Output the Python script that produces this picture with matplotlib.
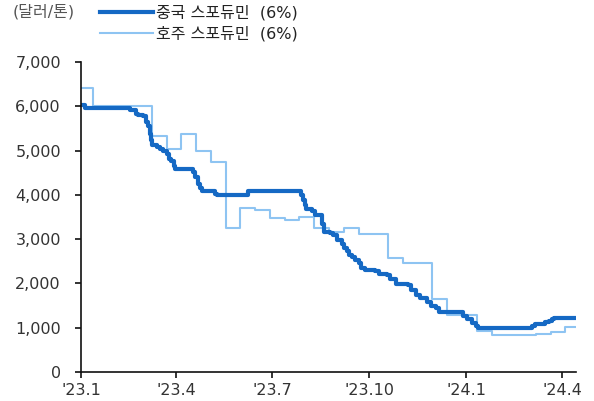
import pandas as pd
import matplotlib.pyplot as plt
from matplotlib.ticker import FuncFormatter

plt.rcParams['font.family'] = ['DejaVu Sans', 'Noto Sans CJK KR']

# 중국 스포듀민 (6%) 가격, 달러/톤
china_dates = [
    "2023-01-01", "2023-01-05", "2023-02-16", "2023-02-22", "2023-02-24",
    "2023-03-01", "2023-03-04", "2023-03-05", "2023-03-07", "2023-03-08",
    "2023-03-09", "2023-03-14", "2023-03-17", "2023-03-20", "2023-03-23",
    "2023-03-25", "2023-03-27", "2023-03-30", "2023-03-31", "2023-04-17",
    "2023-04-19", "2023-04-22", "2023-04-24", "2023-04-26", "2023-05-08",
    "2023-05-10", "2023-06-08", "2023-07-28", "2023-07-30", "2023-08-01",
    "2023-08-02", "2023-08-08", "2023-08-11", "2023-08-17", "2023-08-19",
    "2023-08-25", "2023-08-28", "2023-09-01", "2023-09-05", "2023-09-07",
    "2023-09-10", "2023-09-12", "2023-09-15", "2023-09-18", "2023-09-21",
    "2023-09-23", "2023-09-27", "2023-10-07", "2023-10-10", "2023-10-18",
    "2023-10-21", "2023-10-26", "2023-11-07", "2023-11-10", "2023-11-14",
    "2023-11-18", "2023-11-25", "2023-11-29", "2023-12-03", "2023-12-06",
    "2023-12-29", "2024-01-02", "2024-01-06", "2024-01-10", "2024-01-12",
    "2024-03-03", "2024-03-06", "2024-03-16", "2024-03-19", "2024-03-22",
    "2024-03-24", "2024-04-14",
]
china_price = [
    6035, 5970, 5910, 5830, 5795,
    5780, 5645, 5550, 5380, 5250,
    5120, 5080, 5025, 5000, 4930,
    4815, 4755, 4650, 4575, 4515,
    4400, 4250, 4150, 4080, 4010,
    3990, 4085, 3990, 3875, 3775,
    3690, 3630, 3550, 3350, 3160,
    3140, 3085, 2970, 2900, 2800,
    2725, 2635, 2595, 2520, 2460,
    2350, 2295, 2280, 2220, 2200,
    2105, 1995, 1970, 1845, 1745,
    1670, 1580, 1490, 1445, 1355,
    1265, 1200, 1110, 1050, 995,
    1040, 1075, 1130, 1160, 1190,
    1220, 1220,
]

# 호주 스포듀민 (6%) 가격, 2주 간격
aus_dates = [
    "2023-01-01", "2023-01-12", "2023-01-26", "2023-02-09", "2023-02-23",
    "2023-03-09", "2023-03-23", "2023-04-06", "2023-04-20", "2023-05-04",
    "2023-05-18", "2023-06-01", "2023-06-15", "2023-06-29", "2023-07-13",
    "2023-07-27", "2023-08-10", "2023-08-24", "2023-09-07", "2023-09-21",
    "2023-10-05", "2023-10-19", "2023-11-02", "2023-11-16", "2023-11-30",
    "2023-12-14", "2023-12-28", "2024-01-11", "2024-01-25", "2024-02-08",
    "2024-02-22", "2024-03-07", "2024-03-21", "2024-04-04", "2024-04-14",
]
aus_price = [
    6410, 6000, 6000, 6000, 6000,
    5330, 5040, 5365, 5000, 4740,
    3260, 3700, 3665, 3480, 3430,
    3490, 3250, 3160, 3250, 3120,
    3120, 2575, 2460, 2460, 1650,
    1280, 1280, 918, 828, 828,
    828, 865, 903, 1016, 1016,
]

x_ticks = ["2023-01-01", "2023-04-01", "2023-07-01", "2023-10-01", "2024-01-01", "2024-04-01"]
x_labels = ["'23.1", "'23.4", "'23.7", "'23.10", "'24.1", "'24.4"]

china = pd.Series(china_price, index=pd.to_datetime(china_dates))
aus = pd.Series(aus_price, index=pd.to_datetime(aus_dates))

fig = plt.figure(figsize=(5.94, 4.01), dpi=100)
ax = fig.add_axes([0.1364, 0.0723, 0.8333, 0.773])

l2, = ax.step(aus.index, aus.values, where='post', color='#8ec4f2', lw=1.5,
              label='호주 스포듀민  (6%)')
l1, = ax.step(china.index, china.values, where='post', color='#1569c4', lw=3.0,
              label='중국 스포듀민  (6%)')

ax.set_xlim(pd.Timestamp("2023-01-01"), pd.Timestamp("2024-04-14"))
ax.set_ylim(0, 7000)
ax.set_yticks(range(0, 7001, 1000))
ax.yaxis.set_major_formatter(FuncFormatter(lambda v, p: f"{int(v):,}"))
ax.set_xticks(pd.to_datetime(x_ticks))
ax.set_xticklabels(x_labels)

for s in ['top', 'right']:
    ax.spines[s].set_visible(False)
for s in ['left', 'bottom']:
    ax.spines[s].set_color('#111111')
    ax.spines[s].set_linewidth(1.2)
ax.tick_params(axis='both', direction='out', length=4.5, width=1.2, color='#111111',
               labelsize=11.5, labelcolor='#333333')
ax.tick_params(axis='x', pad=3.5)
ax.tick_params(axis='y', pad=10)

fig.text(0.022, 0.970, '(달러/톤)', fontsize=11.5, color='#555555', va='center')
fig.legend(handles=[l1, l2], loc='upper left', bbox_to_anchor=(0.149, 1.015),
           frameon=False, fontsize=11.5, handlelength=3.35, handletextpad=0.2,
           labelspacing=0.35, borderpad=0.2, labelcolor='#222222')

fig.savefig('out.png', dpi=100)
